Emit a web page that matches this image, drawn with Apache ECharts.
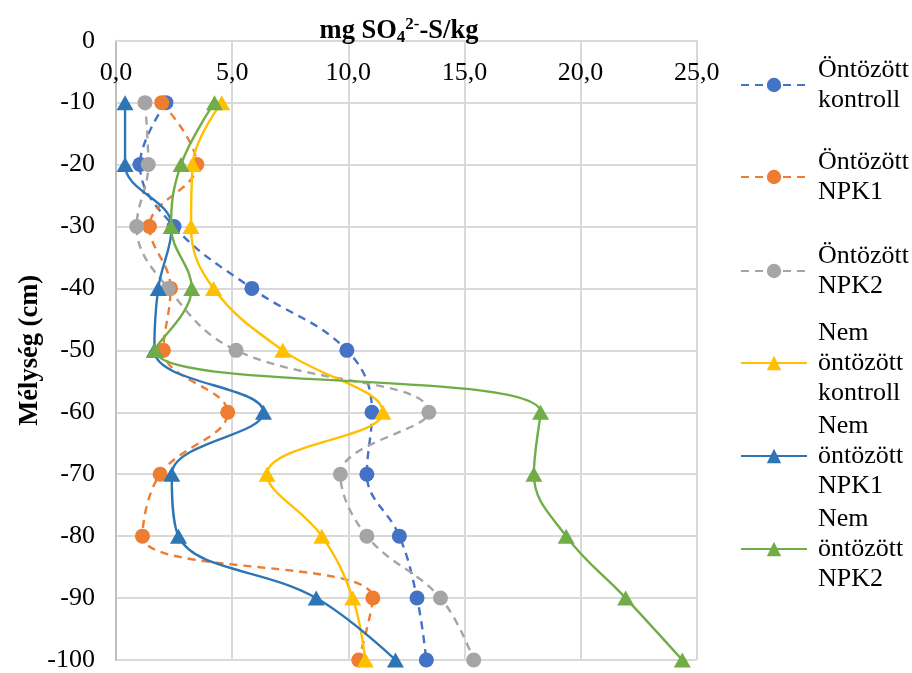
<!DOCTYPE html>
<html>
<head>
<meta charset="utf-8">
<script src="https://cdn.jsdelivr.net/npm/echarts@6/dist/echarts.min.js"></script>
<style>html,body{margin:0;padding:0;background:#fff}#c{width:912px;height:673px}</style>
</head>
<body>
<div id="c"></div>
<script>
const depths = [-10, -20, -30, -40, -50, -60, -70, -80, -90, -100];
const seriesNames = ['Öntözött\nkontroll', 'Öntözött\nNPK1', 'Öntözött\nNPK2', 'Nem\nöntözött\nkontroll', 'Nem\nöntözött\nNPK1', 'Nem\nöntözött\nNPK2'];
const ontKontroll = [2.15, 1.03, 2.5, 5.85, 9.94, 11.02, 10.8, 12.2, 12.96, 13.36];
const ontNPK1 = [1.97, 3.48, 1.44, 2.35, 2.04, 4.81, 1.9, 1.14, 11.06, 10.45];
const ontNPK2 = [1.25, 1.39, 0.89, 2.25, 5.17, 13.47, 9.66, 10.8, 13.97, 15.4];
const nemKontroll = [4.55, 3.3, 3.23, 4.2, 7.18, 11.49, 6.5, 8.86, 10.19, 10.73];
const nemNPK1 = [0.39, 0.39, 2.4, 1.82, 1.65, 6.35, 2.4, 2.69, 8.62, 12.03];
const nemNPK2 = [4.24, 2.8, 2.37, 3.26, 1.68, 18.28, 17.99, 19.38, 21.94, 24.38];

const values = [ontKontroll, ontNPK1, ontNPK2, nemKontroll, nemNPK1, nemNPK2];
const colors = ['#4472C4', '#ED7D31', '#A5A5A5', '#FFC000', '#2E75B6', '#70AD47'];
const font = 'Liberation Serif';

const series = values.map((vals, i) => {
  const dashed = i < 3;
  return {
    name: seriesNames[i],
    type: 'line',
    smooth: 0.4,
    data: vals.map((v, k) => [v, depths[k]]),
    symbol: dashed ? 'circle' : 'triangle',
    symbolSize: dashed ? 15 : [17, 15],
    showSymbol: true,
    lineStyle: { width: 2.4, color: colors[i], type: dashed ? [8, 6] : 'solid' },
    itemStyle: { color: colors[i] },
    emphasis: { disabled: true },
    z: 2 + i
  };
});

const legendIconY = [85, 177, 271, 363, 456, 549];
const legends = seriesNames.map((n, i) => {
  const lines = n.split('\n').length;
  const h = lines * 30 + (lines - 1) * 30;
  return {
    data: [n],
    orient: 'vertical',
    left: 740,
    top: legendIconY[i] - h / 2,
    padding: 0,
    itemWidth: 66,
    itemHeight: 18,
    selectedMode: false,
    textStyle: {
      fontFamily: font, fontSize: 26, lineHeight: 30, color: '#000',
      padding: [(lines - 1) * 30, 0, 0, 6]
    }
  };
});

const chart = echarts.init(document.getElementById('c'));
chart.setOption({
  animation: false,
  color: colors,
  title: {
    text: '{a|mg SO}{sub|4}{sup|2-}{a|-S/kg}',
    left: 394,
    top: 11,
    textAlign: 'center',
    textStyle: {
      rich: {
        a: { fontFamily: font, fontSize: 26.5, fontWeight: 'bold', color: '#000', lineHeight: 30, verticalAlign: 'middle' },
        sub: { fontFamily: font, fontSize: 17, fontWeight: 'bold', color: '#000', lineHeight: 15, verticalAlign: 'bottom' },
        sup: { fontFamily: font, fontSize: 17, fontWeight: 'bold', color: '#000', lineHeight: 15, verticalAlign: 'top' }
      }
    }
  },
  legend: legends,
  grid: { left: 116, top: 40.7, right: 215.3, bottom: 11.5, containLabel: false },
  xAxis: {
    type: 'value',
    position: 'top',
    min: 0, max: 25, interval: 5,
    axisLine: { show: true, lineStyle: { color: '#D9D9D9', width: 2 } },
    axisTick: { show: false },
    splitLine: { show: true, lineStyle: { color: '#D9D9D9', width: 2 } },
    axisLabel: {
      inside: true, margin: 19,
      fontFamily: font, fontSize: 26, color: '#000',
      formatter: v => v.toFixed(1).replace('.', ',')
    }
  },
  yAxis: {
    type: 'value',
    min: -100, max: 0, interval: 10,
    name: 'Mélység (cm)',
    nameLocation: 'middle',
    nameGap: 72,
    nameRotate: 90,
    nameMoveOverlap: false,
    nameTextStyle: { fontFamily: font, fontSize: 26.5, fontWeight: 'bold', color: '#000' },
    axisLine: { show: true, onZero: false, lineStyle: { color: '#BFBFBF', width: 2 } },
    axisTick: { show: false },
    splitLine: { show: true, lineStyle: { color: '#D9D9D9', width: 2 } },
    axisLabel: { margin: 21, fontFamily: font, fontSize: 26, color: '#000' }
  },
  series: series
});
</script>
</body>
</html>
